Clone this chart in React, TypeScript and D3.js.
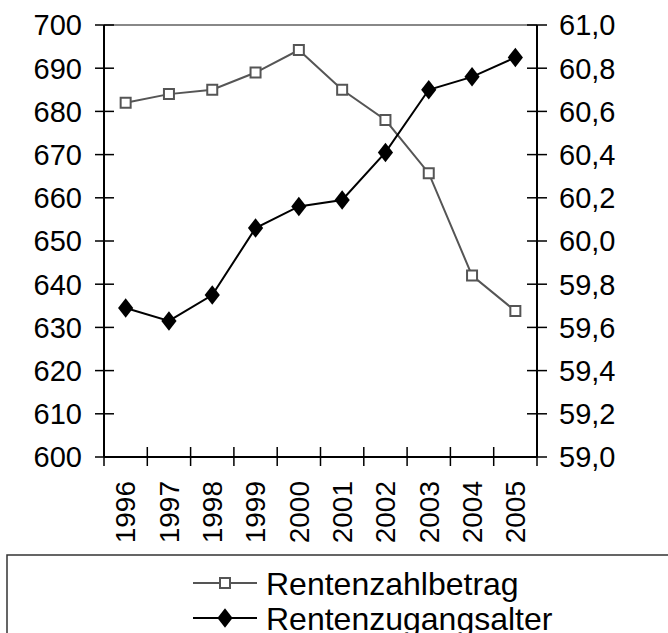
import { useEffect, useRef } from 'react';
import * as d3 from 'd3';

const years = ['1996', '1997', '1998', '1999', '2000', '2001', '2002', '2003', '2004', '2005'];
// Rentenzahlbetrag (linke Achse)
const zahlbetrag = [682, 684, 685, 689, 694.2, 685, 678, 665.7, 642, 633.8];
// Rentenzugangsalter (rechte Achse)
const zugangsalter = [59.69, 59.63, 59.75, 60.06, 60.16, 60.19, 60.41, 60.7, 60.76, 60.85];
const leftTicks = [600, 610, 620, 630, 640, 650, 660, 670, 680, 690, 700];
const rightTicks = [59.0, 59.2, 59.4, 59.6, 59.8, 60.0, 60.2, 60.4, 60.6, 60.8, 61.0];
const seriesNames = ['Rentenzahlbetrag', 'Rentenzugangsalter'];

export default function App() {
  const ref = useRef<SVGSVGElement>(null);

  useEffect(() => {
    if (!ref.current) return;
    const svg = d3.select(ref.current);
    svg.selectAll('*').remove();

    const W = 668, H = 633;
    const left = 104, right = 537, top = 25, bottom = 457;
    const font = 'Liberation Sans, Arial, sans-serif';

    const x = d3.scaleBand().domain(years).range([left, right]);
    const yL = d3.scaleLinear().domain([600, 700]).range([bottom, top]);
    const yR = d3.scaleLinear().domain([59, 61]).range([bottom, top]);
    const cx = (d: string) => (x(d) || 0) + x.bandwidth() / 2;

    svg.attr('width', W).attr('height', H);
    svg.append('rect').attr('width', W).attr('height', H).attr('fill', '#fff');

    // Rahmen oben
    svg.append('line')
      .attr('x1', left).attr('x2', right).attr('y1', top).attr('y2', top)
      .attr('stroke', '#888').attr('stroke-width', 2);

    // linke Achse
    const gL = svg.append('g');
    gL.append('line').attr('x1', left).attr('x2', left).attr('y1', top).attr('y2', bottom)
      .attr('stroke', '#000').attr('stroke-width', 2);
    gL.selectAll('.tick').data(leftTicks).enter().append('line')
      .attr('x1', left - 9).attr('x2', left + 10)
      .attr('y1', d => yL(d)).attr('y2', d => yL(d))
      .attr('stroke', '#000').attr('stroke-width', 1.5);
    gL.selectAll('.lbl').data(leftTicks).enter().append('text')
      .attr('x', left - 22).attr('y', d => yL(d)).attr('dy', '0.36em')
      .attr('text-anchor', 'end').style('font-family', font).style('font-size', '29px')
      .text(d => String(d));

    // rechte Achse
    const gR = svg.append('g');
    gR.append('line').attr('x1', right).attr('x2', right).attr('y1', top).attr('y2', bottom)
      .attr('stroke', '#000').attr('stroke-width', 2);
    gR.selectAll('.tick').data(rightTicks).enter().append('line')
      .attr('x1', right - 10).attr('x2', right + 10)
      .attr('y1', d => yR(d)).attr('y2', d => yR(d))
      .attr('stroke', '#000').attr('stroke-width', 1.5);
    gR.selectAll('.lbl').data(rightTicks).enter().append('text')
      .attr('x', right + 22).attr('y', d => yR(d)).attr('dy', '0.36em')
      .style('font-family', font).style('font-size', '29px')
      .text(d => d3.format('.1f')(d).replace('.', ','));

    // x-Achse
    const gX = svg.append('g');
    gX.append('line').attr('x1', left).attr('x2', right).attr('y1', bottom).attr('y2', bottom)
      .attr('stroke', '#000').attr('stroke-width', 2);
    const bounds = years.map(d => x(d) || 0).concat([right]);
    gX.selectAll('.tick').data(bounds).enter().append('line')
      .attr('x1', d => d).attr('x2', d => d)
      .attr('y1', bottom - 10).attr('y2', bottom + 9)
      .attr('stroke', '#000').attr('stroke-width', 1.5);
    gX.selectAll('.lbl').data(years).enter().append('text')
      .attr('transform', d => `translate(${cx(d)},${bottom + 24}) rotate(-90)`)
      .attr('dy', '0.35em').attr('text-anchor', 'end')
      .style('font-family', font).style('font-size', '28px')
      .text(d => d);

    // Linie Rentenzahlbetrag
    const lineL = d3.line<number>().x((_, i) => cx(years[i])).y(d => yL(d));
    svg.append('path').datum(zahlbetrag).attr('d', lineL)
      .attr('fill', 'none').attr('stroke', '#555').attr('stroke-width', 2);

    // Linie Rentenzugangsalter
    const lineR = d3.line<number>().x((_, i) => cx(years[i])).y(d => yR(d));
    svg.append('path').datum(zugangsalter).attr('d', lineR)
      .attr('fill', 'none').attr('stroke', '#000').attr('stroke-width', 2);

    const sq = d3.symbol().type(d3.symbolSquare).size(100);
    const dia = d3.symbol().type(d3.symbolDiamond).size(110);

    svg.selectAll('.sq').data(zahlbetrag).enter().append('path')
      .attr('d', sq)
      .attr('transform', (d, i) => `translate(${cx(years[i])},${yL(d)})`)
      .attr('fill', '#fff').attr('stroke', '#555').attr('stroke-width', 2);

    svg.selectAll('.dia').data(zugangsalter).enter().append('path')
      .attr('d', dia)
      .attr('transform', (d, i) => `translate(${cx(years[i])},${yR(d)}) scale(1.35,1)`)
      .attr('fill', '#000');

    // Legende
    const lg = svg.append('g');
    lg.append('path').attr('d', `M7,${H}V555H${W}`)
      .attr('fill', 'none').attr('stroke', '#333').attr('stroke-width', 1.5);
    const rows = [583, 618];
    seriesNames.forEach((name, i) => {
      const y = rows[i];
      lg.append('line').attr('x1', 193).attr('x2', 257).attr('y1', y).attr('y2', y)
        .attr('stroke', i === 0 ? '#555' : '#000').attr('stroke-width', 2);
      if (i === 0) {
        lg.append('path').attr('d', sq).attr('transform', `translate(225,${y})`)
          .attr('fill', '#fff').attr('stroke', '#555').attr('stroke-width', 2);
      } else {
        lg.append('path').attr('d', dia).attr('transform', `translate(225,${y}) scale(1.35,1)`)
          .attr('fill', '#000');
      }
      lg.append('text').attr('x', 266).attr('y', y).attr('dy', '0.36em')
        .style('font-family', font).style('font-size', '32px')
        .text(name);
    });
  }, []);

  return <svg ref={ref} style={{ position: 'absolute', left: 0, top: 0, display: 'block' }} />;
}
